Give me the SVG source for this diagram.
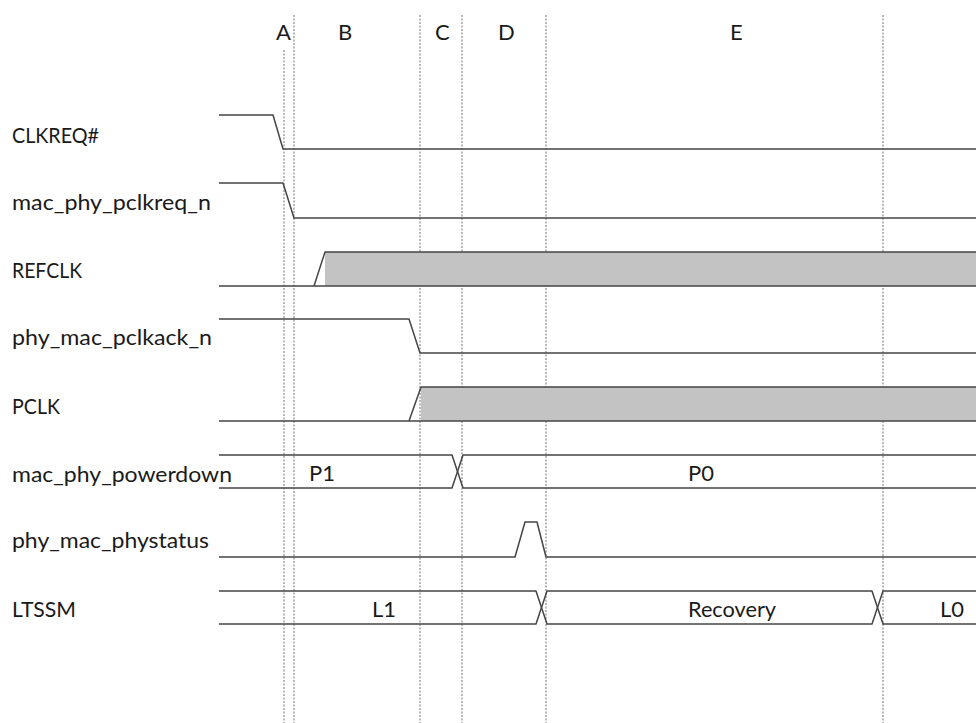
<svg xmlns="http://www.w3.org/2000/svg" width="976" height="723" viewBox="0 0 976 723">
<style>
.lbl{font-family:Lato,"Open Sans","Liberation Sans",sans-serif;font-size:22px;fill:#1a1a1a}
.grid{stroke:#8a8a8a;stroke-width:1.2;stroke-dasharray:2 1.5;fill:none}
.sig{stroke:#454545;stroke-width:1.5;fill:none;stroke-linejoin:round}
.clk{fill:#c3c3c3;stroke:none}
</style>
<rect width="976" height="723" fill="#fff"/>
<g id="phases">
<line class="grid" x1="284" y1="50" x2="284" y2="723"/>
<line class="grid" x1="294" y1="15" x2="294" y2="723"/>
<line class="grid" x1="420" y1="15" x2="420" y2="723"/>
<line class="grid" x1="462" y1="15" x2="462" y2="723"/>
<line class="grid" x1="546" y1="15" x2="546" y2="723"/>
<line class="grid" x1="883" y1="15" x2="883" y2="723"/>
<text class="lbl" x="276" y="40">A</text>
<text class="lbl" x="338" y="40">B</text>
<text class="lbl" x="435" y="40">C</text>
<text class="lbl" x="498" y="40">D</text>
<text class="lbl" x="730" y="40">E</text>
</g>
<g id="clkreq">
<text class="lbl" x="12" y="143" textLength="87" lengthAdjust="spacingAndGlyphs">CLKREQ#</text>
<path class="sig" d="M219,115 H273 L283,149 H976"/>
</g>
<g id="mac_phy_pclkreq_n">
<text class="lbl" x="12" y="210" textLength="199" lengthAdjust="spacingAndGlyphs">mac_phy_pclkreq_n</text>
<path class="sig" d="M219,183 H283 L294,218 H976"/>
</g>
<g id="refclk">
<text class="lbl" x="12" y="278" textLength="70" lengthAdjust="spacingAndGlyphs">REFCLK</text>
<rect class="clk" x="325" y="252" width="651" height="34"/>
<path class="sig" d="M219,286 H976"/>
<path class="sig" d="M314,286 L325,252 H976"/>
</g>
<g id="phy_mac_pclkack_n">
<text class="lbl" x="12" y="345" textLength="200" lengthAdjust="spacingAndGlyphs">phy_mac_pclkack_n</text>
<path class="sig" d="M219,319 H409 L420,353 H976"/>
</g>
<g id="pclk">
<text class="lbl" x="12" y="414" textLength="48" lengthAdjust="spacingAndGlyphs">PCLK</text>
<rect class="clk" x="421" y="387" width="555" height="34"/>
<path class="sig" d="M219,421 H976"/>
<path class="sig" d="M409,421 L421,387 H976"/>
</g>
<g id="mac_phy_powerdown">
<text class="lbl" x="12" y="482" textLength="220" lengthAdjust="spacingAndGlyphs">mac_phy_powerdown</text>
<path class="sig" d="M219,455 H452 L463,488 H976"/>
<path class="sig" d="M219,488 H452 L463,455 H976"/>
<text class="lbl" x="309" y="481">P1</text>
<text class="lbl" x="688" y="481">P0</text>
</g>
<g id="phy_mac_phystatus">
<text class="lbl" x="12" y="548" textLength="197" lengthAdjust="spacingAndGlyphs">phy_mac_phystatus</text>
<path class="sig" d="M219,557 H515 L525,522 H537 L546,557 H976"/>
</g>
<g id="ltssm">
<text class="lbl" x="12" y="617" textLength="64" lengthAdjust="spacingAndGlyphs">LTSSM</text>
<path class="sig" d="M219,591 H536 L547,624 H872 L883,591 H976"/>
<path class="sig" d="M219,624 H536 L547,591 H872 L883,624 H976"/>
<text class="lbl" x="372" y="617">L1</text>
<text class="lbl" x="688" y="617" textLength="88" lengthAdjust="spacingAndGlyphs">Recovery</text>
<text class="lbl" x="940" y="617">L0</text>
</g>
</svg>
